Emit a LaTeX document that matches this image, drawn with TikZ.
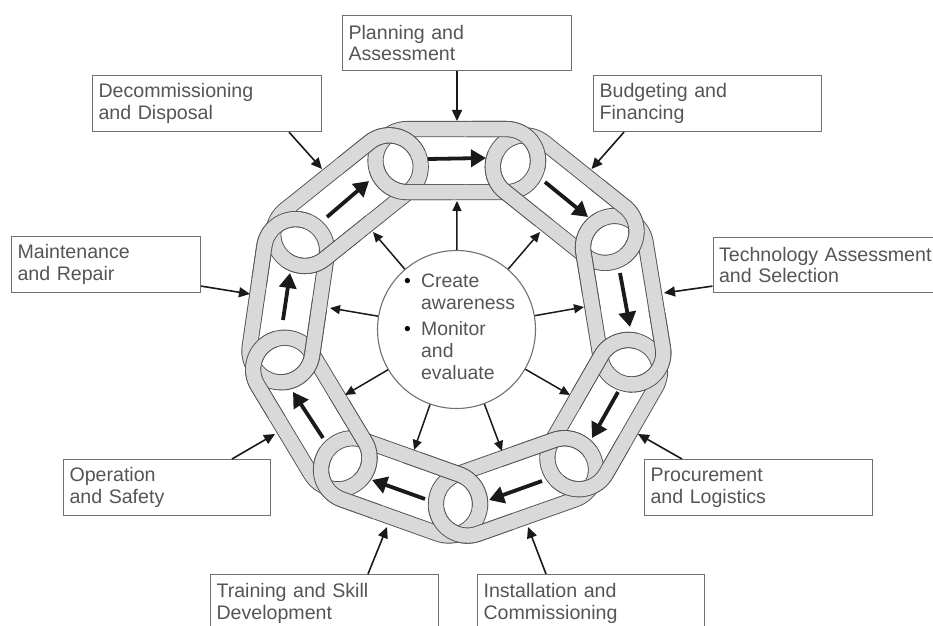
\documentclass[tikz,border=0pt]{standalone}
\usepackage{fontspec}
\setmainfont{Liberation Sans}
\usetikzlibrary{calc,arrows.meta}
\definecolor{linkgray}{HTML}{D9D9D9}
\definecolor{linkline}{HTML}{505050}
\definecolor{boxline}{HTML}{707070}
\definecolor{labeltext}{HTML}{555555}
\definecolor{arrowink}{HTML}{1A1A1A}
\tikzset{
  x=1pt,y=1pt,
  labelbox/.style 2 args={draw=boxline,line width=1.1pt,anchor=north west,minimum width=#1 pt,minimum height=#2 pt,
    inner xsep=6pt,inner ysep=0pt,text width=#1 pt-12pt,align=left,text=labeltext,
    font=\fontsize{19.6}{21.5}\selectfont},
  linkdark/.style={draw=linkline,line width=16.2pt},
  linkfill/.style={draw=linkgray,line width=14.4pt},
  hubcircle/.style={circle,draw=boxline,line width=1.1pt,fill=white,minimum size=158pt,inner sep=0pt},
  hubtext/.style={anchor=north west,inner sep=0pt,align=left,text=labeltext,font=\fontsize{19.4}{22}\selectfont},
  chainarrow/.style={draw=arrowink,line width=3.8pt,-{Triangle[length=15pt,width=17pt]}},
  spoke/.style={draw=arrowink,line width=1.5pt,-{Triangle[length=10pt,width=9pt]}},
  feeder/.style={draw=arrowink,line width=1.6pt,-{Triangle[length=11pt,width=10pt]}},
}
\newcommand\cc[3]{\coordinate (#1) at (#2,625-#3);}
\newcommand\linkstroke[3]{%
  \draw[#3] let \p1=(#1),\p2=(#2),\n1={atan2(\y2-\y1,\x2-\x1)} in
    ($(#1)!10pt!(#2)+(\n1+90:31.5pt)$) --
    ($(#2)!10pt!(#1)+(\n1+90:31.5pt)$) arc[start angle=\n1+90,end angle=\n1-90,radius=31.5pt] --
    ($(#1)!10pt!(#2)+(\n1-90:31.5pt)$) arc[start angle=\n1-90,end angle=\n1-270,radius=31.5pt] -- cycle;}
% half-plane pieces on the hub side (#2=45) or the far side (#2=135) of a ring
\newcommand\halfclip[4]{% base point, far angle, side length, diagonal
  \clip ($(#1)!#3!90:(hub)$) -- ($(#1)!#4!#2:(hub)$) -- ($(#1)!#4!-#2:(hub)$) -- ($(#1)!#3!-90:(hub)$) -- cycle;}
\begin{document}
\begin{tikzpicture}
\useasboundingbox (0,0) rectangle (933,625);
\clip (0,0) rectangle (933,625);
\fill[white] (0,0) rectangle (933,625);
\cc{hub}{456.5}{329.5}
\cc{r1}{397}{160.6}\cc{r2}{516.5}{160.6}\cc{r3}{612.9}{237.6}\cc{r4}{633.4}{362.8}\cc{r5}{573.9}{466.4}
\cc{r6}{458}{507.4}\cc{r7}{343.1}{466.4}\cc{r8}{279.5}{360.7}\cc{r9}{297}{240.7}
% chain
\foreach \la/\lb in {r1/r2,r2/r3,r3/r4,r4/r5,r5/r6,r6/r7,r7/r8,r8/r9,r9/r1}{%
  \linkstroke{\la}{\lb}{linkdark}\linkstroke{\la}{\lb}{linkfill}}
\foreach \rp/\rc/\rn in {r9/r1/r2,r1/r2/r3,r2/r3/r4,r3/r4/r5,r4/r5/r6,r5/r6/r7,r6/r7/r8,r7/r8/r9,r8/r9/r1}{
  \coordinate (inbase) at ($(\rc)!-2pt!(hub)$);
  \coordinate (outbase) at ($(\rc)!2pt!(hub)$);
  \begin{scope}\halfclip{\rc}{45}{55pt}{78pt}\linkstroke{\rc}{\rn}{linkdark}\end{scope}
  \begin{scope}\halfclip{inbase}{45}{58pt}{82pt}\linkstroke{\rc}{\rn}{linkfill}\end{scope}
  \begin{scope}\halfclip{\rc}{135}{55pt}{78pt}\linkstroke{\rp}{\rc}{linkdark}\end{scope}
  \begin{scope}\halfclip{outbase}{135}{58pt}{82pt}\linkstroke{\rp}{\rc}{linkfill}\end{scope}
}
% hub
\node[hubcircle] (centre) at (456.5,625-329.5) {};
\node[hubtext] (centretext) at (402,625-274) {\makebox[19pt][l]{\hspace{2pt}\textcolor{black}{\textbullet}}Create\\[0pt]\hspace{19pt}awareness\\[4pt]\makebox[19pt][l]{\hspace{2pt}\textcolor{black}{\textbullet}}Monitor\\\hspace{19pt}and\\\hspace{19pt}evaluate};
% boxes
\node[labelbox={229}{56}] (decom) at (92,625-75) {Decommissioning\\and Disposal};
\node[labelbox={189}{56}] (maint) at (11,625-236) {Maintenance\\and Repair};
\node[labelbox={229}{55}] (plan) at (342,625-15) {Planning and\\Assessment};
\node[labelbox={228}{56}] (budget) at (593,625-75) {Budgeting and\\Financing};
\node[labelbox={221}{55}] (tech) at (712.5,625-237) {\mbox{Technology Assessment}\\and Selection};
\node[labelbox={207}{56}] (oper) at (63,625-459) {Operation\\and Safety};
\node[labelbox={228}{56}] (proc) at (644,625-459) {Procurement\\and Logistics};
\node[labelbox={228}{58}] (train) at (210,625-574) {Training and Skill\\Development};
\node[labelbox={227}{58}] (inst) at (477,625-574) {Installation and\\Commissioning};
% feeder arrows
\cc{fplan}{457}{121}\cc{fbudget}{591.5}{169}\cc{ftech}{664}{293}\cc{fproc}{638}{434}
\cc{finst}{528}{527}\cc{ftrain}{387}{527}\cc{foper}{275}{434}\cc{fmaint}{250}{294}\cc{fdecom}{322}{169}
\draw[feeder] ([xshift=115pt]plan.south west) -- (fplan);
\draw[feeder] ([xshift=31pt]budget.south west) -- (fbudget);
\draw[feeder] ([yshift=7pt]tech.south west) -- (ftech);
\draw[feeder] ([xshift=38pt]proc.north west) -- (fproc);
\draw[feeder] ([xshift=69pt]inst.north west) -- (finst);
\draw[feeder] ([xshift=158pt]train.north west) -- (ftrain);
\draw[feeder] ([xshift=169pt]oper.north west) -- (foper);
\draw[feeder] ([yshift=7pt]maint.south east) -- (fmaint);
\draw[feeder] ([xshift=197pt]decom.south west) -- (fdecom);
% spokes
\cc{s1}{457}{201}\cc{s2}{540}{232}\cc{s3}{584}{307}\cc{s4}{570}{395}\cc{s5}{502}{451}
\cc{s6}{414}{450}\cc{s7}{345}{395}\cc{s8}{330}{308}\cc{s9}{373}{232}
\foreach \sp in {s1,s2,s3,s4,s5,s6,s7,s8,s9}{\draw[spoke] (centre) -- (\sp);}
% arrows inside the links
\cc{a1}{428}{159}\cc{b1}{486}{158}
\cc{a2}{545}{182}\cc{b2}{588}{217}
\cc{a3}{620}{273}\cc{b3}{630}{327}
\cc{a4}{618}{392}\cc{b4}{592}{438}
\cc{a5}{542}{481}\cc{b5}{489}{500}
\cc{a6}{425}{499}\cc{b6}{372}{480}
\cc{a7}{323}{438}\cc{b7}{293}{392}
\cc{a8}{283}{320}\cc{b8}{290}{273}
\cc{a9}{327}{217}\cc{b9}{369}{181}
\foreach \ix in {1,...,9}{\draw[chainarrow] (a\ix) -- (b\ix);}
\end{tikzpicture}
\end{document}
